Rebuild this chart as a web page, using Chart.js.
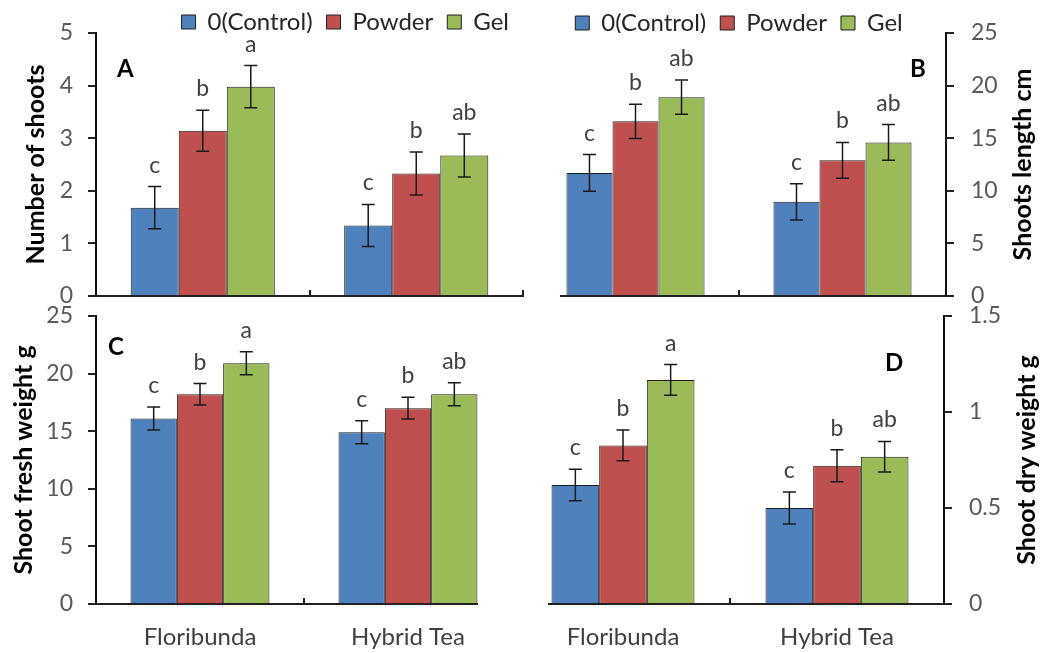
<!DOCTYPE html>
<html><head><meta charset="utf-8">
<script src="https://cdn.jsdelivr.net/npm/chart.js@4.4.1/dist/chart.umd.min.js"></script>
<style>
html,body{margin:0;padding:0;background:#fff;}
#stage{position:relative;width:1052px;height:653px;overflow:hidden;background:#fff;}
.clip{position:absolute;overflow:hidden;}
canvas{position:absolute;}
</style></head><body>
<div id="stage">
  <div class="clip" style="left:0;top:0;width:556px;height:314px"><canvas id="cA" width="552" height="330" style="left:0;top:0"></canvas></div>
  <div class="clip" style="left:560px;top:0;width:492px;height:314px"><canvas id="cB" width="552" height="330" style="left:-60px;top:0"></canvas></div>
  <div class="clip" style="left:0;top:284px;width:478px;height:369px"><canvas id="cC" width="520" height="369" style="left:0;top:0"></canvas></div>
  <div class="clip" style="left:548px;top:284px;width:504px;height:369px"><canvas id="cD" width="552" height="369" style="left:-48px;top:0"></canvas></div>
</div>
<script>
// ---- data ----
const categories = ['Floribunda', 'Hybrid Tea'];
const seriesNames = ['0(Control)', 'Powder', 'Gel'];
const seriesColors = ['#4F81BD', '#C0504D', '#9BBB59'];

// A: number of shoots  (rows = series, cols = categories)
const shootCount = [[1.68, 1.34], [3.14, 2.33], [3.98, 2.67]];
const shootCountErr = [[0.40, 0.40], [0.39, 0.41], [0.40, 0.41]];
const shootCountSig = [['c', 'c'], ['b', 'b'], ['a', 'ab']];
const shootCountAxis = [0, 5, 1];

// B: shoots length cm
const shootLength = [[11.7, 8.95], [16.6, 12.9], [18.9, 14.6]];
const shootLengthErr = [[1.75, 1.73], [1.63, 1.70], [1.63, 1.70]];
const shootLengthSig = [['c', 'c'], ['b', 'b'], ['ab', 'ab']];
const shootLengthAxis = [0, 25, 5];

// C: shoot fresh weight g
const freshWeight = [[16.1, 14.9], [18.2, 17.0], [20.9, 18.2]];
const freshWeightErr = [[1.0, 1.0], [0.93, 0.94], [1.0, 1.0]];
const freshWeightSig = [['c', 'c'], ['b', 'b'], ['a', 'ab']];
const freshWeightAxis = [0, 25, 5];

// D: shoot dry weight g
const dryWeight = [[0.62, 0.50], [0.826, 0.72], [1.167, 0.767]];
const dryWeightErr = [[0.082, 0.083], [0.08, 0.083], [0.08, 0.08]];
const dryWeightSig = [['c', 'c'], ['b', 'b'], ['a', 'ab']];
const dryWeightAxis = [0, 1.5, 0.5];

// ---- plugins ----
const errorBarPlugin = {
  id: 'errorBars',
  afterDatasetsDraw(chart) {
    const ctx = chart.ctx, ys = chart.scales.y;
    ctx.save();
    chart.data.datasets.forEach((ds, di) => {
      chart.getDatasetMeta(di).data.forEach((bar, i) => {
        const v = ds.data[i], e = ds.errors[i], x = bar.x;
        const yt = ys.getPixelForValue(v + e), yb = ys.getPixelForValue(v - e);
        ctx.strokeStyle = '#1a1a1a'; ctx.lineWidth = 1.5;
        ctx.beginPath();
        ctx.moveTo(x, yt); ctx.lineTo(x, yb);
        ctx.moveTo(x - 6.5, yt); ctx.lineTo(x + 6.5, yt);
        ctx.moveTo(x - 6.5, yb); ctx.lineTo(x + 6.5, yb);
        ctx.stroke();
        ctx.fillStyle = '#404040'; ctx.font = '23px Lato';
        ctx.textAlign = 'center'; ctx.textBaseline = 'alphabetic';
        ctx.fillText(ds.sig[i], x, yt - 14);
      });
    });
    ctx.restore();
  }
};

const decorPlugin = {
  id: 'decor',
  afterDraw(chart, args, o) {
    const ctx = chart.ctx, a = chart.chartArea;
    ctx.save();
    ctx.fillStyle = '#000';
    ctx.font = 'bold 24px Lato';
    ctx.textAlign = 'left'; ctx.textBaseline = 'alphabetic';
    const lx = o.letterFromRight ? a.right - o.letterDx : a.left + o.letterDx;
    ctx.fillText(o.letter, lx, a.top + o.letterDy);
    ctx.font = 'bold 25px Lato';
    const tx = o.titleSide === 'right' ? a.right + o.titleDx : a.left - o.titleDx;
    ctx.translate(tx, (a.top + a.bottom) / 2);
    ctx.rotate(-Math.PI / 2);
    ctx.textAlign = 'center'; ctx.textBaseline = 'middle';
    ctx.fillText(o.title, 0, 0);
    ctx.restore();
  }
};

function makeChart(id, o) {
  const datasets = seriesNames.map((name, s) => ({
    label: name,
    data: o.values[s],
    errors: o.errors[s],
    sig: o.sig[s],
    backgroundColor: seriesColors[s],
    borderColor: '#1e1e1e',
    borderWidth: 1,
    categoryPercentage: o.catPct,
    barPercentage: 1
  }));
  return new Chart(document.getElementById(id), {
    type: 'bar',
    data: { labels: categories, datasets },
    options: {
      responsive: false,
      animation: false,
      devicePixelRatio: 1,
      layout: { padding: o.padding },
      plugins: {
        legend: o.legend ? {
          display: true, position: 'top', fullSize: false, align: o.legend.align,
          maxHeight: o.legend.maxHeight,
          labels: { boxWidth: 14, boxHeight: 14, padding: 14, color: '#262626',
                    font: { family: 'Lato', size: 24 } }
        } : { display: false },
        tooltip: { enabled: false },
        decor: o.decor
      },
      scales: {
        x: {
          grid: { display: true, drawOnChartArea: false, drawTicks: true, tickLength: -6,
                  color: '#222', lineWidth: 2, offset: true },
          border: { display: true, color: '#222', width: 2 },
          ticks: { display: o.showCats, color: '#404040', font: { family: 'Lato', size: 24 },
                   padding: 25, maxRotation: 0, autoSkip: false },
          afterFit: s => { s.height = o.xHeight; }
        },
        y: {
          position: o.ySide,
          min: o.axis[0], max: o.axis[1],
          ticks: { stepSize: o.axis[2], color: '#595959', font: { family: 'Lato', size: 23 },
                   padding: o.tickPad, callback: v => String(v) },
          grid: { drawOnChartArea: false, tickLength: 8, color: '#222', lineWidth: 2 },
          border: { display: true, color: '#111', width: 2 },
          afterFit: s => { s.width = o.yWidth; }
        }
      }
    },
    plugins: [errorBarPlugin, decorPlugin]
  });
}

makeChart('cA', {
  values: shootCount, errors: shootCountErr, sig: shootCountSig, axis: shootCountAxis,
  catPct: 0.675, padding: { top: -4, left: 0, right: 29, bottom: 0 },
  legend: { align: 'end', maxHeight: 37 }, showCats: false, xHeight: 34,
  ySide: 'left', yWidth: 96, tickPad: 15,
  decor: { letter: 'A', letterDx: 21, letterDy: 44, title: 'Number of shoots', titleSide: 'left', titleDx: 60 }
});
makeChart('cB', {
  values: shootLength, errors: shootLengthErr, sig: shootLengthSig, axis: shootLengthAxis,
  catPct: 0.667, padding: { top: -3, left: 32, right: 0, bottom: 0 },
  legend: { align: 'center', maxHeight: 36 }, showCats: false, xHeight: 34,
  ySide: 'right', yWidth: 106, tickPad: 17,
  decor: { letter: 'B', letterFromRight: true, letterDx: 36, letterDy: 44, title: 'Shoots length cm', titleSide: 'right', titleDx: 77 }
});
makeChart('cC', {
  values: freshWeight, errors: freshWeightErr, sig: freshWeightSig, axis: freshWeightAxis,
  catPct: 0.668, padding: { top: 32, left: 0, right: 8, bottom: 0 },
  legend: null, showCats: true, xHeight: 49,
  ySide: 'left', yWidth: 96, tickPad: 15,
  decor: { letter: 'C', letterDx: 12, letterDy: 39, title: 'Shoot fresh weight g', titleSide: 'left', titleDx: 72 }
});
makeChart('cD', {
  values: dryWeight, errors: dryWeightErr, sig: dryWeightSig, axis: dryWeightAxis,
  catPct: 0.668, padding: { top: 32, left: 16, right: 0, bottom: 0 },
  legend: null, showCats: true, xHeight: 49,
  ySide: 'right', yWidth: 108, tickPad: 17,
  decor: { letter: 'D', letterFromRight: true, letterDx: 59, letterDy: 55, title: 'Shoot dry weight g', titleSide: 'right', titleDx: 83 }
});
</script>
</body></html>
